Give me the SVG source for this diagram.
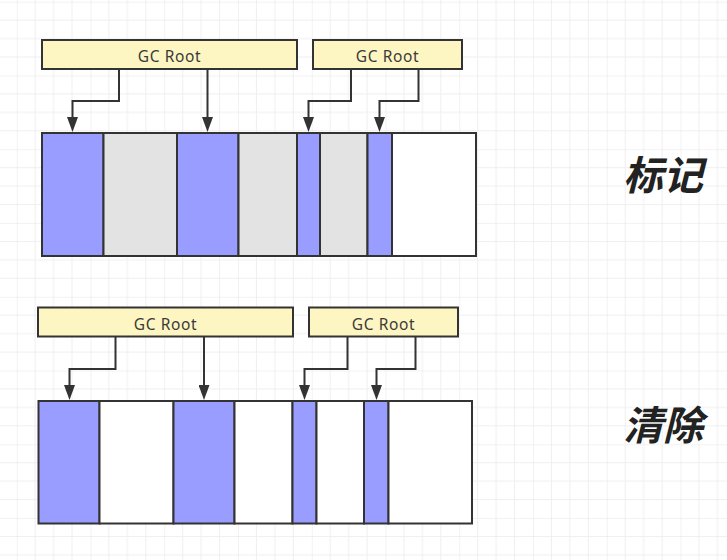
<svg xmlns="http://www.w3.org/2000/svg" width="727" height="560" viewBox="0 0 727 560">
  <style>
    .root rect { fill: #fef6c2; stroke: #333333; stroke-width: 2; }
    .root text { font-family: "Noto Sans", "Liberation Sans", sans-serif; font-size: 15.5px; letter-spacing: 0.6px; fill: #3a3a3a; text-anchor: middle; }
    .cell { stroke: #333333; stroke-width: 2; }
    .live { fill: #999dff; }
    .dead { fill: #e3e3e3; }
    .free { fill: #ffffff; }
    .conn path { fill: none; stroke: #333333; stroke-width: 2; }
    .title { font-family: "Noto Sans CJK SC", "Noto Sans", sans-serif; font-size: 40px; font-weight: bold; font-style: italic; fill: #222222; text-anchor: middle; }
  </style>
  <defs>
    <pattern id="grid" x="16.7" y="1.7" width="73.76" height="73.76" patternUnits="userSpaceOnUse">
      <path d="M18.44 0V73.76M36.88 0V73.76M55.32 0V73.76M0 18.44H73.76M0 36.88H73.76M0 55.32H73.76" stroke="#efefef" stroke-width="1" fill="none"/>
      <path d="M0 0V73.76M0 0H73.76" stroke="#e6e6e6" stroke-width="1" fill="none"/>
    </pattern>
    <marker id="arrow" markerWidth="15" markerHeight="11" refX="0" refY="5.5" orient="auto" markerUnits="userSpaceOnUse">
      <path d="M0 0L15 5.5L0 11z" fill="#333333"/>
    </marker>
  </defs>
  <rect width="727" height="560" fill="#ffffff"/>
  <rect width="727" height="560" fill="url(#grid)"/>

  <!-- Top: mark phase -->
  <g id="root-top-1" class="root">
    <rect x="42" y="40" width="255" height="29"/>
    <text x="169.5" y="61.5">GC Root</text>
  </g>
  <g id="root-top-2" class="root">
    <rect x="313" y="40" width="149" height="29"/>
    <text x="387.5" y="61.5">GC Root</text>
  </g>
  <g id="heap-top">
    <rect class="cell live" x="42" y="133" width="61.5" height="123"/>
    <rect class="cell dead" x="103.5" y="133" width="73.5" height="123"/>
    <rect class="cell live" x="177" y="133" width="61.5" height="123"/>
    <rect class="cell dead" x="238.5" y="133" width="58.5" height="123"/>
    <rect class="cell live" x="297" y="133" width="23" height="123"/>
    <rect class="cell dead" x="320" y="133" width="47.5" height="123"/>
    <rect class="cell live" x="367.5" y="133" width="24.5" height="123"/>
    <rect class="cell free" x="392" y="133" width="84" height="123"/>
  </g>
  <g id="label-mark">
    <text class="title" x="663" y="190">标记</text>
  </g>

  <!-- Bottom: sweep phase -->
  <g id="root-bottom-1" class="root">
    <rect x="38" y="307.5" width="255" height="29"/>
    <text x="165.5" y="329.5">GC Root</text>
  </g>
  <g id="root-bottom-2" class="root">
    <rect x="309" y="307.5" width="149" height="29"/>
    <text x="383.5" y="329.5">GC Root</text>
  </g>
  <g id="heap-bottom">
    <rect class="cell live" x="38.5" y="401" width="61" height="122.5"/>
    <rect class="cell free" x="99.5" y="401" width="74" height="122.5"/>
    <rect class="cell live" x="173.5" y="401" width="61" height="122.5"/>
    <rect class="cell free" x="234.5" y="401" width="58" height="122.5"/>
    <rect class="cell live" x="292.5" y="401" width="24" height="122.5"/>
    <rect class="cell free" x="316.5" y="401" width="47.5" height="122.5"/>
    <rect class="cell live" x="364" y="401" width="24.5" height="122.5"/>
    <rect class="cell free" x="388.5" y="401" width="83.5" height="122.5"/>
  </g>
  <g id="label-sweep">
    <text class="title" x="663" y="440">清除</text>
  </g>

  <g id="connectors" class="conn">
    <path d="M119 69V101H72.5V117" marker-end="url(#arrow)"/>
    <path d="M207.5 69V117" marker-end="url(#arrow)"/>
    <path d="M351 69V101H308.5V117" marker-end="url(#arrow)"/>
    <path d="M418.5 69V101H379.5V117" marker-end="url(#arrow)"/>
    <path d="M115.5 336.5V369H69.5V385" marker-end="url(#arrow)"/>
    <path d="M204 336.5V385" marker-end="url(#arrow)"/>
    <path d="M347.5 336.5V369H304.5V385" marker-end="url(#arrow)"/>
    <path d="M415.5 336.5V369H376.5V385" marker-end="url(#arrow)"/>
  </g>
</svg>
